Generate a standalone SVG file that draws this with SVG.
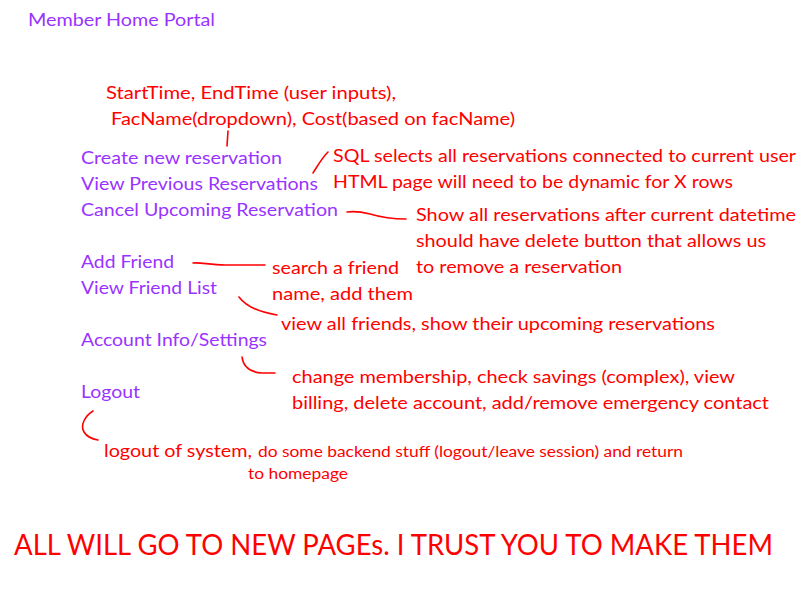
<svg xmlns="http://www.w3.org/2000/svg" width="800" height="600" viewBox="0 0 800 600">
<style>
text{font-family:Lato,"Open Sans","Liberation Sans",sans-serif;font-size:18px}
.p{fill:#9933FF}
.r{fill:#FF0000}
.s{font-size:15.5px}
.big{font-size:28px}
.c{fill:none;stroke:#FF0000;stroke-width:1.6;stroke-linecap:round}
</style>
<rect width="800" height="600" fill="#FFFFFF"/>
<g id="title"><text class="p" x="28" y="26" textLength="187" lengthAdjust="spacingAndGlyphs">Member Home Portal</text></g>
<g id="create-note">
<text class="r" x="106" y="99" textLength="290" lengthAdjust="spacingAndGlyphs">StartTime, EndTime (user inputs),</text>
<text class="r" x="111" y="125" textLength="404" lengthAdjust="spacingAndGlyphs">FacName(dropdown), Cost(based on facName)</text>
</g>
<g id="menu">
<text class="p" x="81" y="164" textLength="201" lengthAdjust="spacingAndGlyphs">Create new reservation</text>
<text class="p" x="81" y="190" textLength="237" lengthAdjust="spacingAndGlyphs">View Previous Reservations</text>
<text class="p" x="81" y="216" textLength="257" lengthAdjust="spacingAndGlyphs">Cancel Upcoming Reservation</text>
<text class="p" x="81" y="268" textLength="93" lengthAdjust="spacingAndGlyphs">Add Friend</text>
<text class="p" x="81" y="294" textLength="136" lengthAdjust="spacingAndGlyphs">View Friend List</text>
<text class="p" x="81" y="346" textLength="186" lengthAdjust="spacingAndGlyphs">Account Info/Settings</text>
<text class="p" x="81" y="398" textLength="59" lengthAdjust="spacingAndGlyphs">Logout</text>
</g>
<g id="view-note">
<text class="r" x="333" y="162" textLength="463" lengthAdjust="spacingAndGlyphs">SQL selects all reservations connected to current user</text>
<text class="r" x="333" y="188" textLength="400" lengthAdjust="spacingAndGlyphs">HTML page will need to be dynamic for X rows</text>
</g>
<g id="cancel-note">
<text class="r" x="416" y="221" textLength="380" lengthAdjust="spacingAndGlyphs">Show all reservations after current datetime</text>
<text class="r" x="416" y="247" textLength="350" lengthAdjust="spacingAndGlyphs">should have delete button that allows us</text>
<text class="r" x="416" y="273" textLength="206" lengthAdjust="spacingAndGlyphs">to remove a reservation</text>
</g>
<g id="friend-note">
<text class="r" x="272" y="274" textLength="127" lengthAdjust="spacingAndGlyphs">search a friend</text>
<text class="r" x="272" y="300" textLength="141" lengthAdjust="spacingAndGlyphs">name, add them</text>
</g>
<g id="friendlist-note"><text class="r" x="281" y="330" textLength="434" lengthAdjust="spacingAndGlyphs">view all friends, show their upcoming reservations</text></g>
<g id="account-note">
<text class="r" x="292" y="383" textLength="443" lengthAdjust="spacingAndGlyphs">change membership, check savings (complex), view</text>
<text class="r" x="292" y="409" textLength="477" lengthAdjust="spacingAndGlyphs">billing, delete account, add/remove emergency contact</text>
</g>
<g id="logout-note">
<text class="r" x="104" y="457" textLength="148" lengthAdjust="spacingAndGlyphs">logout of system,</text>
<text class="r s" x="258" y="457" textLength="425" lengthAdjust="spacingAndGlyphs">do some backend stuff (logout/leave session) and return</text>
<text class="r s" x="248" y="479" textLength="100" lengthAdjust="spacingAndGlyphs">to homepage</text>
</g>
<g id="footer"><text class="r big" x="14" y="555" textLength="759" lengthAdjust="spacingAndGlyphs">ALL WILL GO TO NEW PAGEs. I TRUST YOU TO MAKE THEM</text></g>
<g id="connectors">
<path class="c" d="M228,131 L227,146"/>
<path class="c" d="M328,152 C322,158 318,165 313,173"/>
<path class="c" d="M347,212 C355,211 362,212 370,214 C380,217 395,219 406,219"/>
<path class="c" d="M193,263 C200,262 210,265 225,265 L265,265"/>
<path class="c" d="M239,297 C245,305 258,312 277,315"/>
<path class="c" d="M242,357 C243,365 248,372 262,373 L275,373"/>
<path class="c" d="M93,411 C85,416 80,425 84,432 C87,437 92,439 98,440"/>
</g>
</svg>
